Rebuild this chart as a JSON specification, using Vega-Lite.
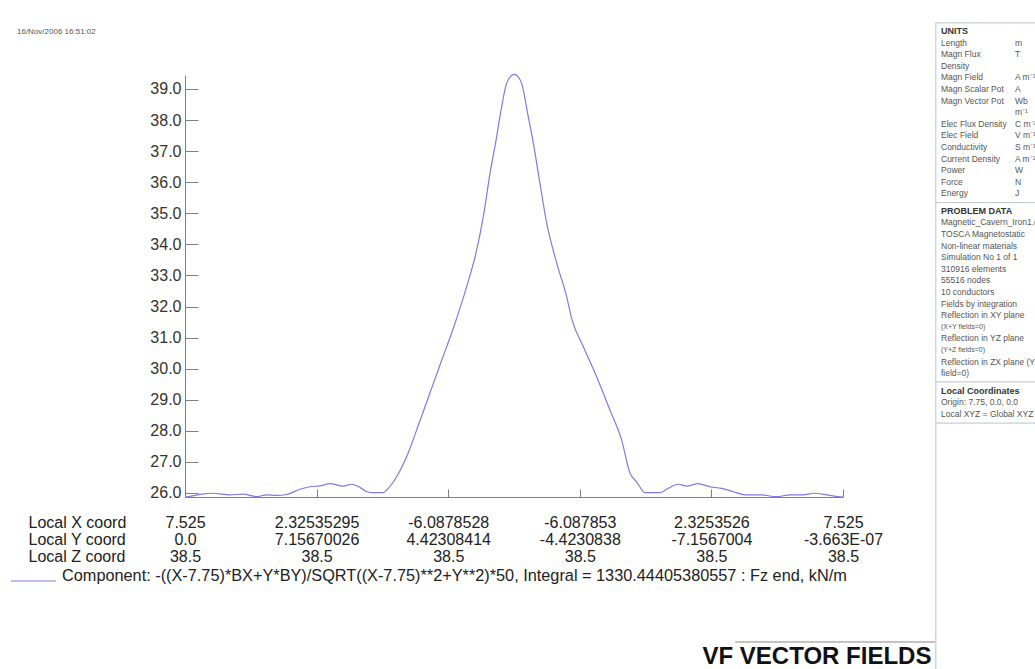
{
  "$schema": "https://vega.github.io/schema/vega-lite/v6.json",
  "autosize": {"type": "none"},
  "padding": {"left": 185, "top": 75, "right": 192, "bottom": 172},
  "width": 658,
  "height": 422,
  "background": "white",
  "config": {"font": "Liberation Sans", "view": {"stroke": null}},
  "title": {
    "text": "16/Nov/2006 16:51:02",
    "anchor": "start",
    "frame": "group",
    "dx": -168,
    "offset": 0,
    "dy": 18,
    "baseline": "middle",
    "fontSize": 8,
    "fontWeight": "normal",
    "color": "#555555",
    "font": "Liberation Sans"
  },
  "layer": [
    {
      "data": {
        "values": [
          {"angle": 0, "fz": 25.87}, {"angle": 1.8, "fz": 25.88}, {"angle": 9.1, "fz": 25.96},
          {"angle": 15.5, "fz": 25.99}, {"angle": 24.6, "fz": 25.94}, {"angle": 31.9, "fz": 25.96},
          {"angle": 39.2, "fz": 25.88}, {"angle": 44.7, "fz": 25.94}, {"angle": 50.2, "fz": 25.92},
          {"angle": 55.6, "fz": 25.95}, {"angle": 62.9, "fz": 26.12}, {"angle": 68.4, "fz": 26.2},
          {"angle": 73.9, "fz": 26.23}, {"angle": 79.3, "fz": 26.3}, {"angle": 86.6, "fz": 26.22},
          {"angle": 91.2, "fz": 26.28}, {"angle": 95.7, "fz": 26.18}, {"angle": 99.4, "fz": 26.04},
          {"angle": 103.0, "fz": 26.01}, {"angle": 108.5, "fz": 26.01}, {"angle": 111.2, "fz": 26.15},
          {"angle": 115.8, "fz": 26.52}, {"angle": 121.3, "fz": 27.17}, {"angle": 128.4, "fz": 28.3},
          {"angle": 133.9, "fz": 29.2}, {"angle": 140.0, "fz": 30.2}, {"angle": 146.8, "fz": 31.3},
          {"angle": 154.1, "fz": 32.64}, {"angle": 159.6, "fz": 33.82}, {"angle": 163.2, "fz": 34.89},
          {"angle": 166.9, "fz": 36.29}, {"angle": 170.5, "fz": 37.46}, {"angle": 172.3, "fz": 38.11},
          {"angle": 176.0, "fz": 39.19}, {"angle": 178.0, "fz": 39.4}, {"angle": 180.2, "fz": 39.47},
          {"angle": 182.2, "fz": 39.4}, {"angle": 184.2, "fz": 39.18}, {"angle": 187.8, "fz": 38.11},
          {"angle": 190.6, "fz": 37.25}, {"angle": 194.2, "fz": 35.96}, {"angle": 197.9, "fz": 34.68},
          {"angle": 203.4, "fz": 33.39}, {"angle": 208.8, "fz": 32.32}, {"angle": 211.6, "fz": 31.6},
          {"angle": 217.9, "fz": 30.71}, {"angle": 225.2, "fz": 29.74}, {"angle": 232.5, "fz": 28.67},
          {"angle": 238.9, "fz": 27.7}, {"angle": 243.5, "fz": 26.63}, {"angle": 247.1, "fz": 26.36},
          {"angle": 251.7, "fz": 26.01}, {"angle": 259.9, "fz": 26.01}, {"angle": 263.5, "fz": 26.12},
          {"angle": 269.9, "fz": 26.28}, {"angle": 274.5, "fz": 26.22}, {"angle": 280.8, "fz": 26.3},
          {"angle": 287.2, "fz": 26.2}, {"angle": 293.6, "fz": 26.15}, {"angle": 300.0, "fz": 26.04},
          {"angle": 306.4, "fz": 25.94}, {"angle": 314.6, "fz": 25.94}, {"angle": 323.7, "fz": 25.88},
          {"angle": 331.0, "fz": 25.94}, {"angle": 338.3, "fz": 25.94}, {"angle": 343.7, "fz": 25.99},
          {"angle": 351.1, "fz": 25.94}, {"angle": 357.4, "fz": 25.88}, {"angle": 360, "fz": 25.87}
        ]
      },
      "mark": {"type": "line", "strokeWidth": 1.2, "interpolate": "monotone"},
      "encoding": {
        "x": {
          "field": "angle", "type": "quantitative",
          "scale": {"domain": [0, 360], "nice": false, "zero": false},
          "axis": {
            "values": [0, 72, 144, 216, 288, 360],
            "labelExpr": "datum.value == 0 ? ['7.525', '0.0', '38.5'] : datum.value == 72 ? ['2.32535295', '7.15670026', '38.5'] : datum.value == 144 ? ['-6.0878528', '4.42308414', '38.5'] : datum.value == 216 ? ['-6.087853', '-4.4230838', '38.5'] : datum.value == 288 ? ['2.3253526', '-7.1567004', '38.5'] : ['7.525', '-3.663E-07', '38.5']",
            "grid": false,
            "domainColor": "#808080",
            "tickColor": "#808080",
            "tickSize": -8,
            "labelPadding": 25,
            "labelFontSize": 16,
            "labelColor": "#222222",
            "labelLineHeight": 17,
            "labelBaseline": "top",
            "labelFlush": false,
            "labelOverlap": false,
            "title": "VF VECTOR FIELDS",
            "titleX": 517,
            "titleY": 166,
            "titleAlign": "left",
            "titleAnchor": null,
            "titleBaseline": "alphabetic",
            "titleFontSize": 24,
            "titleFontWeight": "bold",
            "titleColor": "#111111"
          }
        },
        "y": {
          "field": "fz", "type": "quantitative",
          "scale": {"domain": [25.87, 39.45], "nice": false, "zero": false},
          "axis": {
            "values": [26, 27, 28, 29, 30, 31, 32, 33, 34, 35, 36, 37, 38, 39],
            "format": ".1f",
            "grid": false,
            "domainColor": "#808080",
            "tickColor": "#808080",
            "tickSize": -13,
            "labelPadding": 17,
            "labelFontSize": 16,
            "labelColor": "#333333",
            "labelFlush": false,
            "title": ["Local X coord", "Local Y coord", "Local Z coord"],
            "titleAngle": 0,
            "titleX": -157,
            "titleY": 439,
            "titleAlign": "left",
            "titleAnchor": null,
            "titleBaseline": "top",
            "titleFontSize": 16,
            "titleFontWeight": "normal",
            "titleColor": "#222222",
            "titleLineHeight": 17
          }
        },
        "color": {
          "datum": "Component: -((X-7.75)*BX+Y*BY)/SQRT((X-7.75)**2+Y**2)*50, Integral = 1330.44405380557 : Fz end, kN/m",
          "type": "nominal",
          "scale": {"range": ["#7c7ce4"]},
          "legend": {
            "orient": "none",
            "legendX": -175,
            "legendY": 482.5,
            "title": null,
            "padding": 0,
            "symbolType": "stroke",
            "symbolSize": 2025,
            "symbolStrokeWidth": 1.2,
            "symbolOffset": 0,
            "labelOffset": 5,
            "labelBaseline": "alphabetic",
            "labelFontSize": 16.3,
            "labelColor": "#222222",
            "labelLimit": 2000
          }
        }
      }
    },
    {
      "data": {
        "values": [
          {"line": 0, "label": "UNITS", "kind": "header"},
          {"line": 1, "label": "Length", "unit": "m", "kind": "item"},
          {"line": 2, "label": "Magn Flux", "unit": "T", "kind": "item"},
          {"line": 3, "label": "Density", "kind": "item"},
          {"line": 4, "label": "Magn Field", "unit": "A m⁻¹", "kind": "item"},
          {"line": 5, "label": "Magn Scalar Pot", "unit": "A", "kind": "item"},
          {"line": 6, "label": "Magn Vector Pot", "unit": "Wb", "kind": "item"},
          {"line": 7, "label": "", "unit": "m⁻¹", "kind": "item"},
          {"line": 8, "label": "Elec Flux Density", "unit": "C m⁻²", "kind": "item"},
          {"line": 9, "label": "Elec Field", "unit": "V m⁻¹", "kind": "item"},
          {"line": 10, "label": "Conductivity", "unit": "S m⁻¹", "kind": "item"},
          {"line": 11, "label": "Current Density", "unit": "A m⁻²", "kind": "item"},
          {"line": 12, "label": "Power", "unit": "W", "kind": "item"},
          {"line": 13, "label": "Force", "unit": "N", "kind": "item"},
          {"line": 14, "label": "Energy", "unit": "J", "kind": "item"},
          {"line": 15.5, "label": "PROBLEM DATA", "kind": "header"},
          {"line": 16.5, "label": "Magnetic_Cavern_Iron1.op3", "kind": "data"},
          {"line": 17.5, "label": "TOSCA Magnetostatic", "kind": "data"},
          {"line": 18.5, "label": "Non-linear materials", "kind": "data"},
          {"line": 19.5, "label": "Simulation No 1 of 1", "kind": "data"},
          {"line": 20.5, "label": "310916 elements", "kind": "data"},
          {"line": 21.5, "label": "55516 nodes", "kind": "data"},
          {"line": 22.5, "label": "10 conductors", "kind": "data"},
          {"line": 23.5, "label": "Fields by integration", "kind": "data"},
          {"line": 24.5, "label": "Reflection in XY plane", "kind": "data"},
          {"line": 25.5, "label": "(X+Y fields=0)", "kind": "note"},
          {"line": 26.5, "label": "Reflection in YZ plane", "kind": "data"},
          {"line": 27.5, "label": "(Y+Z fields=0)", "kind": "note"},
          {"line": 28.5, "label": "Reflection in ZX plane (Y", "kind": "data"},
          {"line": 29.5, "label": "field=0)", "kind": "data"},
          {"line": 31, "label": "Local Coordinates", "kind": "header"},
          {"line": 32, "label": "Origin: 7.75, 0.0, 0.0", "kind": "data"},
          {"line": 33, "label": "Local XYZ = Global XYZ", "kind": "data"}
        ]
      },
      "layer": [
        {
          "data": {"values": [{"box": "panel"}]},
          "mark": {"type": "rect", "filled": false, "stroke": "#b9c3cf", "strokeWidth": 1},
          "encoding": {
            "x": {"datum": -0.07, "type": "quantitative", "scale": {"domain": [0, 1], "range": [756, 830]}, "axis": null},
            "x2": {"datum": 1.8},
            "y": {"datum": -0.7, "type": "quantitative", "scale": {"domain": [0, 30], "range": [-44, 304]}, "axis": null},
            "y2": {"datum": 56}
          }
        },
        {
          "data": {"values": [{"after": "Energy", "pos": 14.8}, {"after": "field=0)", "pos": 30.25}, {"after": "Local XYZ", "pos": 33.8}]},
          "mark": {"type": "rule", "stroke": "#b9c3cf", "strokeWidth": 1},
          "encoding": {
            "x": {"datum": -0.07, "type": "quantitative", "scale": {"domain": [0, 1], "range": [756, 830]}, "axis": null},
            "x2": {"datum": 1.8},
            "y": {"field": "pos", "type": "quantitative", "scale": {"domain": [0, 30], "range": [-44, 304]}, "axis": null}
          }
        },
        {
          "data": {"values": [{"logo": "top", "pos": 52.67, "start": -2.78}]},
          "mark": {"type": "rule", "stroke": "#888888", "strokeWidth": 1},
          "encoding": {
            "x": {"field": "start", "type": "quantitative", "scale": {"domain": [0, 1], "range": [756, 830]}, "axis": null},
            "x2": {"datum": -0.08},
            "y": {"field": "pos", "type": "quantitative", "scale": {"domain": [0, 30], "range": [-44, 304]}, "axis": null}
          }
        },
        {
          "transform": [{"filter": "datum.kind == 'header'"}],
          "mark": {"type": "text", "align": "left", "baseline": "middle", "fontSize": 9, "fontWeight": "bold", "color": "#333333"},
          "encoding": {
            "x": {"datum": 0, "type": "quantitative", "scale": {"domain": [0, 1], "range": [756, 830]}, "axis": null},
            "y": {"field": "line", "type": "quantitative", "scale": {"domain": [0, 30], "range": [-44, 304]}, "axis": null},
            "text": {"field": "label"}
          }
        },
        {
          "transform": [{"filter": "datum.kind == 'item' || datum.kind == 'data'"}],
          "mark": {"type": "text", "align": "left", "baseline": "middle", "fontSize": 8.5, "color": "#555555"},
          "encoding": {
            "x": {"datum": 0, "type": "quantitative", "scale": {"domain": [0, 1], "range": [756, 830]}, "axis": null},
            "y": {"field": "line", "type": "quantitative", "scale": {"domain": [0, 30], "range": [-44, 304]}, "axis": null},
            "text": {"field": "label"}
          }
        },
        {
          "transform": [{"filter": "datum.kind == 'note'"}],
          "mark": {"type": "text", "align": "left", "baseline": "middle", "fontSize": 7, "color": "#555555"},
          "encoding": {
            "x": {"datum": 0, "type": "quantitative", "scale": {"domain": [0, 1], "range": [756, 830]}, "axis": null},
            "y": {"field": "line", "type": "quantitative", "scale": {"domain": [0, 30], "range": [-44, 304]}, "axis": null},
            "text": {"field": "label"}
          }
        },
        {
          "transform": [{"filter": "isValid(datum.unit)"}],
          "mark": {"type": "text", "align": "left", "baseline": "middle", "fontSize": 8.5, "color": "#555555"},
          "encoding": {
            "x": {"datum": 1, "type": "quantitative", "scale": {"domain": [0, 1], "range": [756, 830]}, "axis": null},
            "y": {"field": "line", "type": "quantitative", "scale": {"domain": [0, 30], "range": [-44, 304]}, "axis": null},
            "text": {"field": "unit"}
          }
        }
      ]
    }
  ],
  "resolve": {"scale": {"x": "independent", "y": "independent"}}
}
